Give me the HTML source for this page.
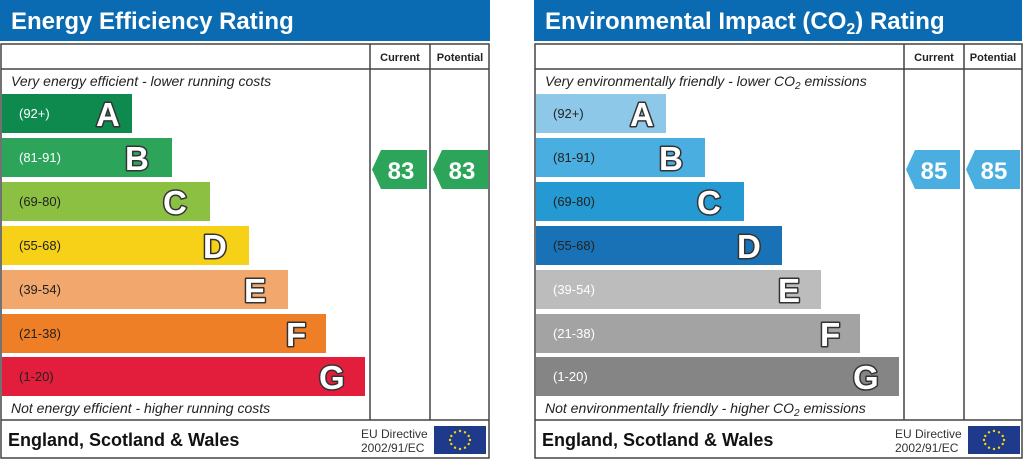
<!DOCTYPE html>
<html><head><meta charset="utf-8"><style>
html,body{margin:0;padding:0;background:#fff;width:1024px;height:460px;overflow:hidden}
svg{display:block;font-family:"Liberation Sans",sans-serif}
.rng{font-size:13px}
.let{font-size:33px;font-weight:bold;fill:#fff;stroke:#333;stroke-width:3px;paint-order:stroke fill;stroke-linejoin:round}
.it{font-size:14px;font-style:italic;fill:#222}
.hd{font-size:11px;font-weight:bold;fill:#222}
</style></head><body>
<svg width="1024" height="460" viewBox="0 0 1024 460">
<defs>
<g id="eu"><rect x="0" y="0" width="52" height="28" fill="#1f3a8a"/>
<g fill="#ffd800">
<circle cx="26" cy="5" r="1.2"/><circle cx="31" cy="6.3" r="1.2"/><circle cx="34.7" cy="10" r="1.2"/><circle cx="36" cy="14" r="1.2"/><circle cx="34.7" cy="18" r="1.2"/><circle cx="31" cy="21.7" r="1.2"/><circle cx="26" cy="23" r="1.2"/><circle cx="21" cy="21.7" r="1.2"/><circle cx="17.3" cy="18" r="1.2"/><circle cx="16" cy="14" r="1.2"/><circle cx="17.3" cy="10" r="1.2"/><circle cx="21" cy="6.3" r="1.2"/></g></g>
</defs>

<!-- LEFT PANEL -->
<rect x="0" y="0" width="490" height="41" fill="#0a6bb3"/>
<text x="11" y="29" font-size="24" font-weight="bold" fill="#fff">Energy Efficiency Rating</text>
<rect x="1" y="44" width="488" height="414" fill="#fff" stroke="#444" stroke-width="1.5"/>
<line x1="370" y1="44" x2="370" y2="420" stroke="#444" stroke-width="1.5"/>
<line x1="430" y1="44" x2="430" y2="420" stroke="#444" stroke-width="1.5"/>
<line x1="1" y1="69" x2="489" y2="69" stroke="#444" stroke-width="1.5"/>
<line x1="1" y1="420" x2="489" y2="420" stroke="#444" stroke-width="1.5"/>
<text x="400" y="61" class="hd" text-anchor="middle">Current</text>
<text x="460" y="61" class="hd" text-anchor="middle">Potential</text>
<text x="11" y="86" class="it">Very energy efficient - lower running costs</text>
<rect x="2" y="94" width="130" height="39" fill="#0f8a4f"/><text x="19" y="118" class="rng" fill="#fff">(92+)</text><text x="96" y="126" class="let">A</text>
<rect x="2" y="138" width="170" height="39" fill="#2ca55a"/><text x="19" y="162" class="rng" fill="#fff">(81-91)</text><text x="125" y="170" class="let">B</text>
<rect x="2" y="182" width="208" height="39" fill="#8cc043"/><text x="19" y="206" class="rng" fill="#222">(69-80)</text><text x="163" y="214" class="let">C</text>
<rect x="2" y="226" width="247" height="39" fill="#f7d117"/><text x="19" y="250" class="rng" fill="#222">(55-68)</text><text x="203" y="258" class="let">D</text>
<rect x="2" y="270" width="286" height="39" fill="#f2a86c"/><text x="19" y="294" class="rng" fill="#222">(39-54)</text><text x="244" y="302" class="let">E</text>
<rect x="2" y="314" width="324" height="39" fill="#ee7f27"/><text x="19" y="338" class="rng" fill="#222">(21-38)</text><text x="286" y="346" class="let">F</text>
<rect x="2" y="357" width="363" height="39" fill="#e31d3c"/><text x="19" y="381" class="rng" fill="#222">(1-20)</text><text x="319" y="389" class="let">G</text>
<text x="11" y="413" class="it">Not energy efficient - higher running costs</text>
<polygon points="372,169.5 381,150 427,150 427,189 381,189" fill="#2ca55a"/>
<text x="401" y="179" font-size="24" font-weight="bold" fill="#fff" text-anchor="middle">83</text>
<polygon points="433,169.5 442,150 488,150 488,189 442,189" fill="#2ca55a"/>
<text x="462" y="179" font-size="24" font-weight="bold" fill="#fff" text-anchor="middle">83</text>
<text x="8" y="446" font-size="18" font-weight="bold" fill="#111">England, Scotland &amp; Wales</text>
<text x="361" y="438" font-size="12" fill="#333">EU Directive</text>
<text x="361" y="452" font-size="12" fill="#333">2002/91/EC</text>
<use href="#eu" x="434" y="426"/>

<!-- RIGHT PANEL -->
<rect x="534" y="0" width="488" height="41" fill="#0a6bb3"/>
<text x="545" y="29" font-size="24" font-weight="bold" fill="#fff">Environmental Impact (CO<tspan font-size="16" dy="5">2</tspan><tspan dy="-5">) Rating</tspan></text>
<rect x="535" y="44" width="487" height="414" fill="#fff" stroke="#444" stroke-width="1.5"/>
<line x1="904" y1="44" x2="904" y2="420" stroke="#444" stroke-width="1.5"/>
<line x1="964" y1="44" x2="964" y2="420" stroke="#444" stroke-width="1.5"/>
<line x1="535" y1="69" x2="1022" y2="69" stroke="#444" stroke-width="1.5"/>
<line x1="535" y1="420" x2="1022" y2="420" stroke="#444" stroke-width="1.5"/>
<text x="934" y="61" class="hd" text-anchor="middle">Current</text>
<text x="993" y="61" class="hd" text-anchor="middle">Potential</text>
<text x="545" y="86" class="it">Very environmentally friendly - lower CO<tspan font-size="10" dy="3">2</tspan><tspan dy="-3"> emissions</tspan></text>
<rect x="536" y="94" width="130" height="39" fill="#8dc8e8"/><text x="553" y="118" class="rng" fill="#222">(92+)</text><text x="630" y="126" class="let">A</text>
<rect x="536" y="138" width="169" height="39" fill="#4aaee0"/><text x="553" y="162" class="rng" fill="#222">(81-91)</text><text x="659" y="170" class="let">B</text>
<rect x="536" y="182" width="208" height="39" fill="#2599d2"/><text x="553" y="206" class="rng" fill="#222">(69-80)</text><text x="697" y="214" class="let">C</text>
<rect x="536" y="226" width="246" height="39" fill="#1a72b6"/><text x="553" y="250" class="rng" fill="#222">(55-68)</text><text x="737" y="258" class="let">D</text>
<rect x="536" y="270" width="285" height="39" fill="#bcbcbc"/><text x="553" y="294" class="rng" fill="#fff">(39-54)</text><text x="778" y="302" class="let">E</text>
<rect x="536" y="314" width="324" height="39" fill="#a3a3a3"/><text x="553" y="338" class="rng" fill="#fff">(21-38)</text><text x="820" y="346" class="let">F</text>
<rect x="536" y="357" width="363" height="39" fill="#858585"/><text x="553" y="381" class="rng" fill="#fff">(1-20)</text><text x="853" y="389" class="let">G</text>
<text x="545" y="413" class="it">Not environmentally friendly - higher CO<tspan font-size="10" dy="3">2</tspan><tspan dy="-3"> emissions</tspan></text>
<polygon points="906,169.5 915,150 960,150 960,189 915,189" fill="#4aaee0"/>
<text x="934" y="179" font-size="24" font-weight="bold" fill="#fff" text-anchor="middle">85</text>
<polygon points="966,169.5 975,150 1020,150 1020,189 975,189" fill="#4aaee0"/>
<text x="994" y="179" font-size="24" font-weight="bold" fill="#fff" text-anchor="middle">85</text>
<text x="542" y="446" font-size="18" font-weight="bold" fill="#111">England, Scotland &amp; Wales</text>
<text x="895" y="438" font-size="12" fill="#333">EU Directive</text>
<text x="895" y="452" font-size="12" fill="#333">2002/91/EC</text>
<use href="#eu" x="968" y="426"/>
</svg>
</body></html>
